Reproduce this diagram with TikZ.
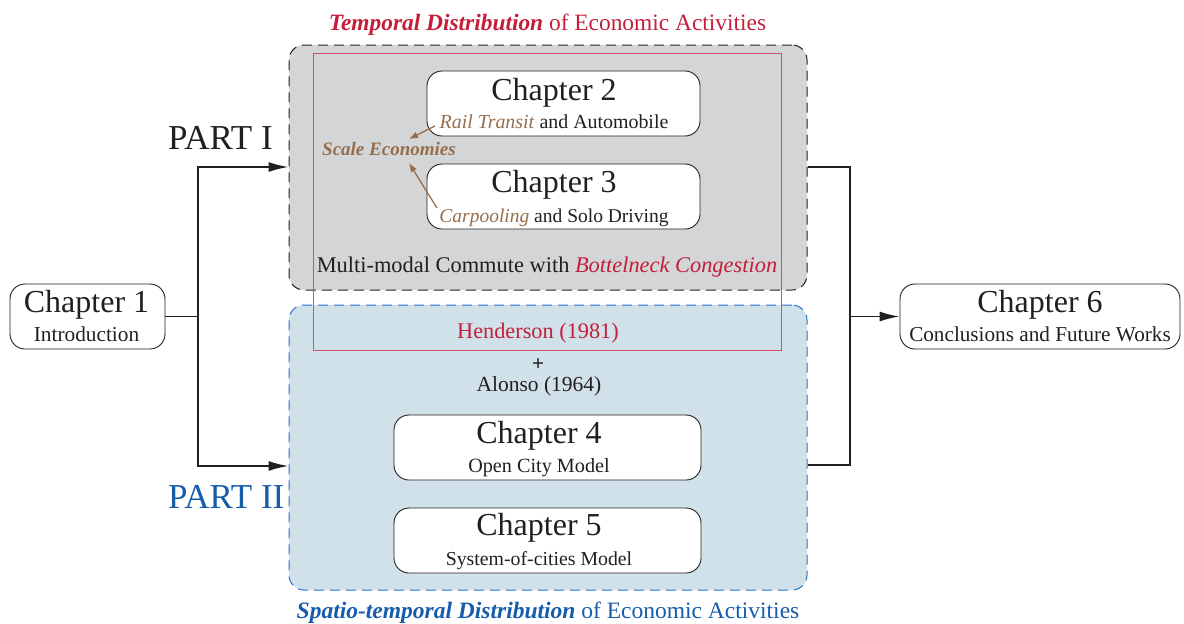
\documentclass[tikz,border=0pt]{standalone}
\usepackage{fontspec}
\setmainfont{Liberation Serif}
\usetikzlibrary{arrows.meta}
\definecolor{tred}{RGB}{196,30,58}
\definecolor{rline}{RGB}{210,80,100}
\definecolor{tblue}{RGB}{22,92,170}
\definecolor{bdash}{RGB}{40,112,200}
\definecolor{tbrown}{RGB}{150,110,75}
\definecolor{grayfill}{RGB}{212,213,215}
\definecolor{bluefill}{RGB}{209,225,233}
\definecolor{ink}{RGB}{35,31,32}
\newcommand\myfs[1]{\fontsize{#1}{#1}\selectfont}
\begin{document}
\begin{tikzpicture}[x=1pt,y=-1pt,
  chap/.style={draw=ink, line width=0.9pt, fill=white, rounded corners=15pt, inner sep=0pt},
  txt/.style={anchor=base, inner sep=0pt, text=ink},
  conn/.style={draw=ink, line width=1.8pt},
  arr/.style={conn, -{Latex[length=20pt,width=10pt]}},
  barr/.style={draw=tbrown, line width=1.3pt, -{Latex[length=9pt,width=7pt]}},
  grp/.style={rounded corners=15pt, inner sep=0pt, line width=1pt, dash pattern=on 10pt off 6pt}
]
\useasboundingbox (0,0) rectangle (1184,624);

% group boxes
\node[grp, draw=ink, fill=grayfill, minimum width=518pt, minimum height=245pt] (gray) at (548,167.5) {};
\node[grp, draw=bdash, fill=bluefill, minimum width=518pt, minimum height=285pt] (blue) at (548,447.5) {};

% red rectangle
\node[draw=rline, line width=0.9pt, inner sep=0pt, minimum width=468pt, minimum height=297pt] (redrect) at (547,201.5) {};

% chapter boxes
\node[chap, minimum width=155pt, minimum height=65pt] (ch1) at (87.5,316.5) {};
\node[chap, minimum width=273pt, minimum height=65pt] (ch2) at (563.5,103.5) {};
\node[chap, minimum width=273pt, minimum height=65pt] (ch3) at (563.5,196.5) {};
\node[chap, minimum width=307pt, minimum height=65pt] (ch4) at (547.5,447.5) {};
\node[chap, minimum width=307pt, minimum height=65pt] (ch5) at (547.5,540.5) {};
\node[chap, minimum width=280pt, minimum height=65pt] (ch6) at (1040,316.5) {};

% chapter texts
\node[txt] (t1a) at (86.5,312) {\myfs{32}Chapter 1};
\node[txt] (t1b) at (86.5,341) {\myfs{21.3}Introduction};
\node[txt] (t2a) at (554,100) {\myfs{32}Chapter 2};
\node[txt] (t2b) at (554,128) {\myfs{19.9}\textcolor{tbrown}{\textit{Rail Transit}} and Automobile};
\node[txt] (t3a) at (554,192) {\myfs{32}Chapter 3};
\node[txt] (t3b) at (554,222) {\myfs{19.5}\textcolor{tbrown}{\textit{Carpooling}} and Solo Driving};
\node[txt] (t4a) at (539,443) {\myfs{32}Chapter 4};
\node[txt] (t4b) at (539,472) {\myfs{20.2}Open City Model};
\node[txt] (t5a) at (539,535) {\myfs{32}Chapter 5};
\node[txt] (t5b) at (539,565) {\myfs{19.8}System-of-cities Model};
\node[txt] (t6a) at (1040,312) {\myfs{32}Chapter 6};
\node[txt] (t6b) at (1040,341) {\myfs{21.2}Conclusions and Future Works};

% titles and labels
\node[txt, text=tred] (toptitle) at (547.5,30) {\myfs{23.4}\textbf{\textit{Temporal Distribution}} of Economic Activities};
\node[txt, text=tblue] (bottitle) at (548,618) {\myfs{23.5}\textbf{\textit{Spatio-temporal Distribution}} of Economic Activities};
\node[txt] (multi) at (547,272) {\myfs{22.4}Multi-modal Commute with \textcolor{tred}{\textit{Bottelneck Congestion}}};
\node[txt, text=tred] (hend) at (538,338) {\myfs{22.3}Henderson (1981)};
\node[txt] (plus) at (538,370) {\myfs{21}\textbf{+}};
\node[txt] (alonso) at (539,391) {\myfs{21.5}Alonso (1964)};
\node[txt, anchor=base west, text=tbrown] (scale) at (322,155) {\myfs{19}\textbf{\textit{Scale Economies}}};
\node[txt, anchor=base west] (part1) at (168,149) {\myfs{35}PART I};
\node[txt, anchor=base west, text=tblue] (part2) at (168,508) {\myfs{35}PART II};

% brown arrows
\coordinate (s1) at (435,126);
\coordinate (s2) at (437,208);
\coordinate (e1) at (409,139);
\coordinate (e2) at (409,163);
\draw[barr] (s1) -- (e1);
\draw[barr] (s2) -- (e2);

% connectors
\coordinate (a1) at (198,167);
\coordinate (a2) at (198,466);
\coordinate (b1) at (850,167);
\coordinate (b2) at (850,465);
\draw[arr] (ch1.east) -| (a1) -- (gray.west |- a1);
\draw[arr] (ch1.east) -| (a2) -- (blue.west |- a2);
\draw[conn] (gray.east |- b1) -- (b1) -- (b2) -- (blue.east |- b2);
\draw[arr] (b1 |- ch6.west) -- (ch6.west);
\end{tikzpicture}
\end{document}
